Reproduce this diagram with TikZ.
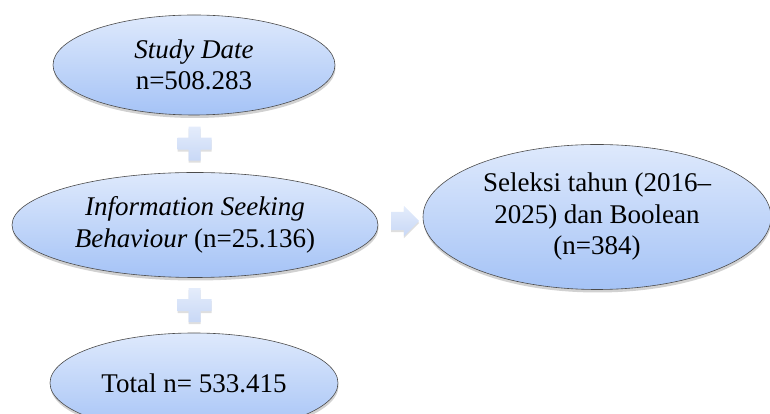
\documentclass[tikz,border=0pt]{standalone}
\usepackage{fontspec}
\setmainfont{Liberation Serif}
\usetikzlibrary{shapes.geometric, shapes.arrows, shadows, calc}

\definecolor{ovaltop}{HTML}{DEE9FC}
\definecolor{ovalbottom}{HTML}{A5C3F6}
\definecolor{signtop}{HTML}{E4ECFB}
\definecolor{signbottom}{HTML}{C8D8F6}

\begin{document}
\begin{tikzpicture}[x=1pt, y=1pt,
        every node/.style={font=\fontsize{27}{31.5}\selectfont},
        oval/.style={ellipse, draw=black!70, line width=0.6pt, inner sep=0pt,
            top color=ovaltop, bottom color=ovalbottom, align=center,
            drop shadow={shadow xshift=0.5pt, shadow yshift=-3pt, opacity=0.3, fill=black!60}},
        sign/.style={top color=signtop, bottom color=signbottom,
            drop shadow={shadow xshift=0pt, shadow yshift=-2pt, opacity=0.25, fill=black!50}}]
            \useasboundingbox (0,0) rectangle (770,414);
            \clip (0,0) rectangle (770,414);

            \node[oval, minimum width=282, minimum height=100] (study) at (194, 349) {\textit{Study Date}\\n=508.283};
            \node[oval, minimum width=366, minimum height=105] (info) at (195, 189) {\textit{Information Seeking}\\\textit{Behaviour} (n=25.136)};
            \node[oval, minimum width=288, minimum height=100] (total) at (194, 31) {Total n= 533.415};
            \node[oval, minimum width=348, minimum height=145] (seleksi) at (597, 197) {Seleksi tahun (2016--\\2025) dan Boolean\\(n=384)};

            % plus signs between the ovals
            \coordinate (plusA) at ($(study.south)!0.5!(info.north)$);
            \coordinate (plusB) at ($(info.south)!0.5!(total.north)$);
            \path[sign] ($(plusA)+(-6,-17)$) -- ++(12,0) -- ++(0,11) -- ++(11,0) -- ++(0,12) -- ++(-11,0)
                -- ++(0,11) -- ++(-12,0) -- ++(0,-11) -- ++(-11,0) -- ++(0,-12) -- ++(11,0) -- cycle;
            \path[sign] ($(plusB)+(-6,-17)$) -- ++(12,0) -- ++(0,11) -- ++(11,0) -- ++(0,12) -- ++(-11,0)
                -- ++(0,11) -- ++(-12,0) -- ++(0,-11) -- ++(-11,0) -- ++(0,-12) -- ++(11,0) -- cycle;

            \node[sign, single arrow, minimum height=28, minimum width=30, inner xsep=0pt, inner ysep=9pt,
                single arrow head extend=6, single arrow head indent=0pt] (go) at ($(info.east)!0.5!(seleksi.west)$) {};

        \end{tikzpicture}
\end{document}
